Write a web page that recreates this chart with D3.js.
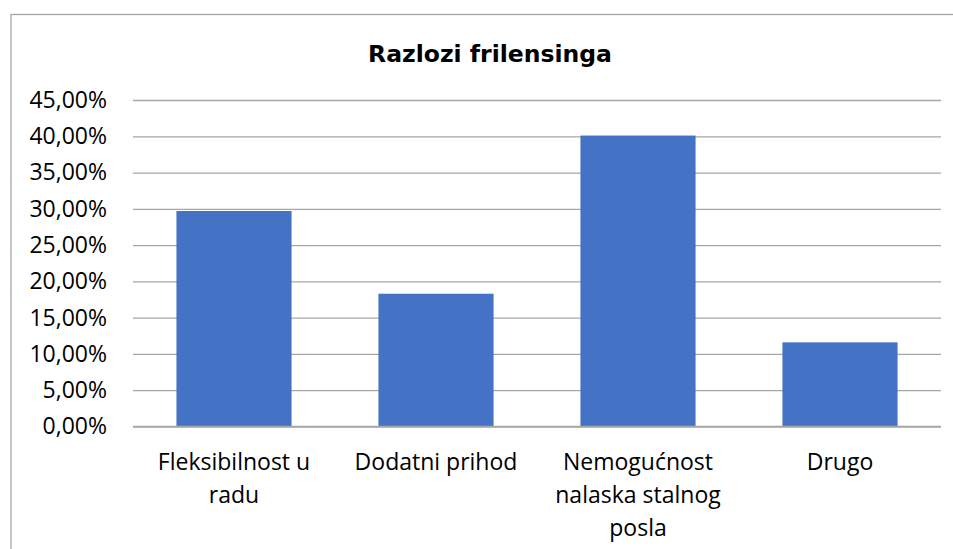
<!DOCTYPE html>
<html>
<head>
<meta charset="utf-8">
<script src="https://cdn.jsdelivr.net/npm/d3@7"></script>
<style>
  html, body { margin: 0; padding: 0; background: #fff; }
  svg { display: block; }
</style>
</head>
<body>
<svg id="chart" width="953" height="549"></svg>
<script>
const title = "Razlozi frilensinga";
const categories = ["Fleksibilnost u radu", "Dodatni prihod", "Nemogućnost nalaska stalnog posla", "Drugo"];
const values = [0.297, 0.183, 0.401, 0.116];
const yTicks = [0, 0.05, 0.10, 0.15, 0.20, 0.25, 0.30, 0.35, 0.40, 0.45];

const svg = d3.select("#chart");
const W = 953, H = 549;
const plot = { left: 133, right: 941, top: 100, bottom: 426.5 };
const FONT = "'Open Sans', 'Liberation Sans', sans-serif";

const locale = d3.formatLocale({ decimal: ",", thousands: ".", grouping: [3], currency: ["", "€"] });
const fmt = locale.format(".2%");

// chart border
svg.append("rect")
  .attr("x", 11).attr("y", 14.5)
  .attr("width", W + 20).attr("height", H + 20)
  .attr("fill", "#fff").attr("stroke", "#a6a6a6").attr("stroke-width", 1.3);

const x = d3.scaleBand()
  .domain(categories)
  .range([plot.left, plot.right])
  .paddingInner(0.43)
  .paddingOuter(0.215);

const y = d3.scaleLinear()
  .domain([0, 0.45])
  .range([plot.bottom, plot.top]);

// gridlines + y labels
const yAxis = d3.axisLeft(y)
  .tickValues(yTicks)
  .tickFormat(fmt)
  .tickSize(-(plot.right - plot.left))
  .tickPadding(26);

const gy = svg.append("g")
  .attr("transform", `translate(${plot.left},0)`)
  .call(yAxis);
gy.select(".domain").remove();
gy.selectAll(".tick line").attr("stroke", "#a6a6a6").attr("stroke-width", 1.3);
gy.selectAll(".tick text")
  .attr("fill", "#000")
  .style("font-family", FONT)
  .style("font-size", "23px");

// bars
svg.append("g").selectAll("rect")
  .data(categories)
  .join("rect")
  .attr("x", d => x(d))
  .attr("width", x.bandwidth())
  .attr("y", (d, i) => y(values[i]))
  .attr("height", (d, i) => y(0) - y(values[i]))
  .attr("fill", "#4472c4");

// x axis
const xAxis = d3.axisBottom(x).tickSize(0).tickPadding(0);
const gx = svg.append("g")
  .attr("transform", `translate(0,${plot.bottom})`)
  .call(xAxis);
gx.select(".domain").attr("stroke", "#a6a6a6").attr("stroke-width", 1.3)
  .attr("d", `M${plot.left},0H${plot.right}`);
gx.selectAll(".tick text").remove();

// wrapped category labels
const measure = svg.append("text")
  .style("font-family", FONT)
  .style("font-size", "23px");
function wrap(label, maxW) {
  const words = label.split(" ");
  const lines = [];
  let cur = "";
  words.forEach(w => {
    const test = cur ? cur + " " + w : w;
    measure.text(test);
    if (cur && measure.node().getComputedTextLength() > maxW) {
      lines.push(cur);
      cur = w;
    } else {
      cur = test;
    }
  });
  if (cur) lines.push(cur);
  return lines;
}

const labels = svg.append("g").selectAll("text")
  .data(categories)
  .join("text")
  .attr("text-anchor", "middle")
  .attr("fill", "#000")
  .style("font-family", FONT)
  .style("font-size", "23px");
labels.each(function(d) {
  const lines = wrap(d, 185);
  const t = d3.select(this);
  lines.forEach((ln, i) => {
    t.append("tspan")
      .attr("x", x(d) + x.bandwidth() / 2)
      .attr("y", 470 + i * 33)
      .text(ln);
  });
});
measure.remove();

// title
svg.append("text")
  .attr("x", 490)
  .attr("y", 62)
  .attr("text-anchor", "middle")
  .attr("fill", "#000")
  .style("font-family", "'DejaVu Sans', Verdana, sans-serif")
  .style("font-weight", "bold")
  .style("font-size", "23.5px")
  .text(title);
</script>
</body>
</html>
